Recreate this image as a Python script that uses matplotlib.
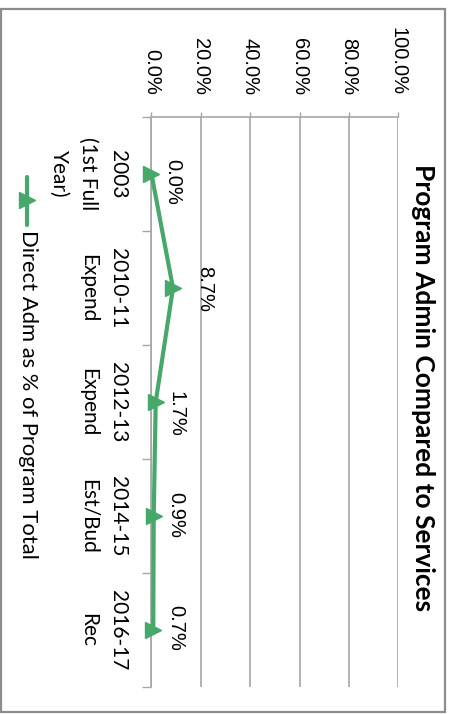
import matplotlib
matplotlib.use("Agg")
import matplotlib.pyplot as plt
from matplotlib.lines import Line2D
from matplotlib.patches import Rectangle
from matplotlib.ticker import FixedLocator

# Data
categories = ["2003\n(1st Full\nYear)", "2010-11\nExpend", "2012-13\nExpend",
              "2014-15\nEst/Bud", "2016-17\nRec"]
admin_share = [0.000, 0.087, 0.017, 0.009, 0.007]
value_ticks = [0.0, 0.2, 0.4, 0.6, 0.8, 1.0]
value_tick_labels = ["0.0%", "20.0%", "40.0%", "60.0%", "80.0%", "100.0%"]
series_name = "Direct Adm as % of Program Total"
title = "Program Admin Compared to Services"

GREEN = "#47A86B"
GRID = "#A6A6A6"
SANS = ["Liberation Sans", "DejaVu Sans"]
HUMAN = ["Lato", "DejaVu Sans"]

W, H = 452, 714
fig = plt.figure(figsize=(W / 100, H / 100), dpi=100)

def fx(px):
    return px / W

def fy(py):
    return 1 - py / H

# outer chart border
fig.patches.append(Rectangle((fx(1.5), fy(712)), fx(444) - fx(0), (712 - 9) / H,
                             transform=fig.transFigure, fill=False,
                             edgecolor="#8C8C8C", linewidth=1.6))

left, right, top, bottom = 151.5, 398.5, 117, 687
ax = fig.add_axes([fx(left), fy(bottom), (right - left) / W, (bottom - top) / H])

n = len(categories)
pos = list(range(n))
ax.set_xlim(0, 1)
ax.set_ylim(n - 0.5, -0.5)

# value axis (drawn along the top, labels rotated)
ax.xaxis.set_major_locator(FixedLocator(value_ticks))
ax.set_xticklabels(value_tick_labels, fontfamily=SANS, fontsize=14.5)
ax.tick_params(axis="x", which="major", top=True, bottom=False, labeltop=True,
               labelbottom=False, direction="out", length=3.6, width=1,
               color=GRID, pad=12, labelrotation=-90)
for lbl in ax.get_xticklabels():
    lbl.set_rotation(-90)
    lbl.set_ha("center")
    lbl.set_va("bottom")
ax.grid(axis="x", color=GRID, linewidth=1.2)
ax.set_axisbelow(True)

# category axis
ax.yaxis.set_major_locator(FixedLocator(pos))
ax.set_yticklabels(categories, fontfamily=HUMAN, fontsize=15)
ax.yaxis.set_minor_locator(FixedLocator([p - 0.5 for p in pos] + [n - 0.5]))
ax.tick_params(axis="y", which="major", length=0, pad=17)
ax.tick_params(axis="y", which="minor", length=6.5, width=1, color=GRID,
               direction="out")
for lbl in ax.get_yticklabels():
    lbl.set_rotation(-90)
    lbl.set_ha("right")
    lbl.set_va("center")
    lbl.set_multialignment("center")
    lbl.set_linespacing(1.6)

for side in ("right", "bottom"):
    ax.spines[side].set_visible(False)
for side in ("left", "top"):
    ax.spines[side].set_color(GRID)
    ax.spines[side].set_linewidth(1.2)

# series
ax.plot(admin_share, pos, color=GREEN, linewidth=3, marker=">",
        markersize=11, markerfacecolor=GREEN, markeredgecolor=GREEN,
        solid_capstyle="round", clip_on=False, zorder=5)

# data labels
label_offsets = [(21, 8), (32, 1), (20, 12), (22, -1), (23, -2)]
for v, p, (dx, dy) in zip(admin_share, pos, label_offsets):
    ax.annotate(f"{v * 100:.1f}%", (v, p), xytext=(dx, -dy),
                textcoords="offset pixels", rotation=-90, ha="center",
                va="center", fontfamily=SANS, fontsize=14.5, color="black",
                annotation_clip=False, zorder=6)

# title
fig.text(fx(423), fy(388), title, rotation=-90, ha="center", va="center",
         fontfamily=HUMAN, fontsize=19, fontweight="bold", color="black")

# legend
fig.lines.append(Line2D([fx(27.5), fx(27.5)], [fy(177), fy(225)],
                        transform=fig.transFigure, color=GREEN, linewidth=3,
                        solid_capstyle="round"))
fig.lines.append(Line2D([fx(27.5)], [fy(200)], transform=fig.transFigure,
                        color=GREEN, marker=">", markersize=11, linestyle="none"))
fig.text(fx(28), fy(230), series_name, rotation=-90, ha="center", va="top",
         fontfamily=HUMAN, fontsize=15.8, color="black")

fig.savefig("out.png", dpi=100)
